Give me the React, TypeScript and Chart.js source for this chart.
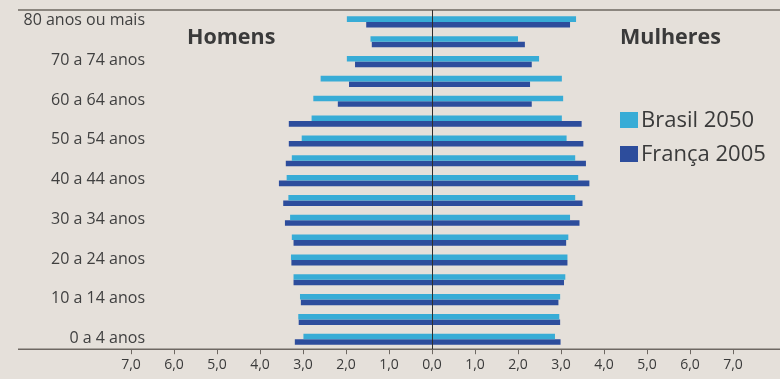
import { useEffect, useRef } from "react";
import { Chart, registerables } from "chart.js";

Chart.register(...registerables);

// Age groups from oldest (top) to youngest (bottom)
const ageGroups = [
  "80 anos ou mais",
  "75 a 79 anos",
  "70 a 74 anos",
  "65 a 69 anos",
  "60 a 64 anos",
  "55 a 59 anos",
  "50 a 54 anos",
  "45 a 49 anos",
  "40 a 44 anos",
  "35 a 39 anos",
  "30 a 34 anos",
  "25 a 29 anos",
  "20 a 24 anos",
  "15 a 19 anos",
  "10 a 14 anos",
  "5 a 9 anos",
  "0 a 4 anos",
];

// Share of the population (%) per age group
const brasilHomens = [1.98, 1.43, 1.98, 2.59, 2.76, 2.8, 3.03, 3.26, 3.38, 3.34, 3.3, 3.26, 3.28, 3.22, 3.07, 3.11, 2.99];
const brasilMulheres = [3.35, 2.0, 2.49, 3.02, 3.05, 3.02, 3.13, 3.33, 3.4, 3.33, 3.21, 3.17, 3.15, 3.1, 2.98, 2.96, 2.86];
const francaHomens = [1.53, 1.4, 1.79, 1.93, 2.19, 3.33, 3.33, 3.4, 3.56, 3.46, 3.42, 3.22, 3.27, 3.22, 3.05, 3.1, 3.19];
const francaMulheres = [3.21, 2.16, 2.32, 2.28, 2.32, 3.48, 3.52, 3.58, 3.66, 3.5, 3.43, 3.12, 3.15, 3.07, 2.94, 2.98, 2.99];

const seriesNames = ["Brasil 2050", "França 2005"];
const sideTitles = ["Homens", "Mulheres"];
const axisMax = 7;

const PAPER = "#e5e0da";
const INK = "#3a3a3a";
const LIGHT_BLUE = "#38acd6";
const DARK_BLUE = "#2d4d9c";
const FONT = "'Open Sans', 'Noto Sans', sans-serif";

const decorations = {
  id: "pyramidDecorations",
  afterDatasetsDraw(chart: any) {
    const { ctx, chartArea, scales } = chart;
    const x = scales.x;
    const y = scales.y;
    const topY = chartArea.top - 2;
    ctx.save();
    // frame lines top and bottom
    ctx.strokeStyle = "#6e6862";
    ctx.lineWidth = 1.5;
    ctx.beginPath();
    ctx.moveTo(18, topY);
    ctx.lineTo(chart.width, topY);
    ctx.moveTo(18, chartArea.bottom);
    ctx.lineTo(chart.width, chartArea.bottom);
    ctx.stroke();
    // zero line
    const x0 = Math.round(x.getPixelForValue(0)) + 0.5;
    ctx.strokeStyle = "#2e2e2e";
    ctx.lineWidth = 1;
    ctx.beginPath();
    ctx.moveTo(x0, topY);
    ctx.lineTo(x0, chartArea.bottom);
    ctx.stroke();

    // category labels, every other group
    ctx.fillStyle = "#404040";
    ctx.font = `16px ${FONT}`;
    ctx.textAlign = "right";
    ctx.textBaseline = "middle";
    ageGroups.forEach((label, i) => {
      if (i % 2 !== 0) return;
      ctx.fillText(label, 145, y.getPixelForValue(i) - 1);
    });

    // side titles
    ctx.fillStyle = INK;
    ctx.font = `bold 21.5px ${FONT}`;
    ctx.textAlign = "left";
    ctx.fillText(sideTitles[0], 187, 38);
    ctx.fillText(sideTitles[1], 620, 38);

    // legend
    ctx.font = `22px ${FONT}`;
    chart.data.datasets.forEach((ds: any, i: number) => {
      const cy = 120 + i * 34;
      ctx.fillStyle = ds.backgroundColor;
      ctx.fillRect(620, cy - 8, 18, 16);
      ctx.fillStyle = INK;
      ctx.fillText(ds.label, 641, cy + 1);
    });
    ctx.restore();
  },
};

export default function App() {
  const canvasRef = useRef<HTMLCanvasElement>(null);

  useEffect(() => {
    if (!canvasRef.current) return;
    const chart = new Chart(canvasRef.current, {
      type: "bar",
      data: {
        labels: ageGroups,
        datasets: [
          {
            label: seriesNames[0],
            data: ageGroups.map((_, i) => [-brasilHomens[i], brasilMulheres[i]]) as any,
            backgroundColor: LIGHT_BLUE,
            borderWidth: 0,
          },
          {
            label: seriesNames[1],
            data: ageGroups.map((_, i) => [-francaHomens[i], francaMulheres[i]]) as any,
            backgroundColor: DARK_BLUE,
            borderWidth: 0,
          },
        ],
      },
      options: {
        indexAxis: "y",
        animation: false,
        responsive: false,
        maintainAspectRatio: false,
        layout: { padding: { left: 131, right: 47, top: 12, bottom: 4 } },
        datasets: { bar: { categoryPercentage: 0.56, barPercentage: 1, grouped: true } },
        plugins: { legend: { display: false }, tooltip: { enabled: false } },
        scales: {
          x: {
            type: "linear",
            min: -axisMax,
            max: axisMax,
            border: { display: false },
            grid: { color: "rgba(0,0,0,0)", tickColor: "#6e6862", tickLength: 5, lineWidth: 1 },
            ticks: {
              stepSize: 1,
              autoSkip: false,
              maxRotation: 0,
              padding: 2,
              color: INK,
              font: { family: FONT, size: 14 },
              callback: (v: any) => Math.abs(Number(v)).toFixed(1).replace(".", ","),
            },
          },
          y: { type: "category", display: false, offset: true },
        },
      },
      plugins: [decorations],
    });
    return () => chart.destroy();
  }, []);

  return (
    <div style={{ position: "fixed", left: 0, top: 0, width: 780, height: 379, background: PAPER }}>
      <canvas ref={canvasRef} width={780} height={379} style={{ display: "block", width: 780, height: 379 }} />
    </div>
  );
}
